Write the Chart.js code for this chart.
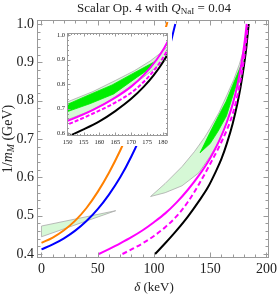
<!DOCTYPE html>
<html>
<head>
<meta charset="utf-8">
<script src="https://cdn.jsdelivr.net/npm/chart.js@4"></script>
<style>
  body { margin: 0; background: #fff; }
  #wrap { position: relative; width: 280px; height: 294px; font-family: "Liberation Serif", "DejaVu Serif", serif; color: #222; }
  #main { position: absolute; left: 0; top: 0; }
  #insetBox { position: absolute; left: 50px; top: 27px; width: 122px; height: 119px; background: #fff; }
  .lbl { position: absolute; white-space: nowrap; }
  #title { left: 37px; width: 234px; top: 0; text-align: center; font-size: 13px; line-height: 15px; }
  #xTitle { left: 37px; width: 234px; top: 279px; text-align: center; font-size: 13px; line-height: 15px; }
  #yTitle { left: 9px; top: 139px; font-size: 14px; line-height: 15px; transform: translate(-50%, -50%) rotate(-90deg); }
  sub { font-size: 70%; vertical-align: -0.25em; }
</style>
</head>
<body>
<div id="wrap">
  <canvas id="main" width="280" height="294"></canvas>
  <div id="insetBox"><canvas id="inset" width="122" height="119"></canvas></div>
  <div class="lbl" id="title">Scalar Op. 4 with <i>Q</i><sub>NaI</sub> = 0.04</div>
  <div class="lbl" id="xTitle"><i>δ</i> (keV)</div>
  <div class="lbl" id="yTitle">1/<i>m<sub>M</sub></i> (GeV)</div>
</div>
<script>
// curves: delta (keV) vs 1/m_M (GeV)
const orangeX = [0, 10, 20, 30, 40, 50, 60, 70, 80, 90, 100, 110, 112];
const orangeY = [0.429, 0.443, 0.462, 0.487, 0.520, 0.562, 0.612, 0.670, 0.736, 0.810, 0.893, 0.985, 1.005];

const blueX = [0, 10, 20, 30, 40, 50, 60, 70, 80, 90, 100, 110, 119];
const blueY = [0.412, 0.425, 0.441, 0.461, 0.486, 0.517, 0.555, 0.600, 0.655, 0.720, 0.800, 0.895, 1.0];

const magentaX = [51, 60, 70, 80, 90, 100, 110, 120, 130, 140, 150, 158, 165, 170, 174, 178, 180.5, 182.5];
const magentaY = [0.400, 0.413, 0.428, 0.444, 0.462, 0.483, 0.506, 0.534, 0.567, 0.605, 0.650, 0.695, 0.745, 0.790, 0.838, 0.900, 0.950, 1.0];

const magentaDashX = [72, 80, 90, 100, 110, 120, 130, 140, 150, 158, 165, 170, 174, 178, 181, 183.5];
const magentaDashY = [0.400, 0.412, 0.428, 0.447, 0.470, 0.498, 0.535, 0.582, 0.635, 0.680, 0.725, 0.765, 0.810, 0.870, 0.930, 0.995];

const blackX = [101, 110, 120, 130, 140, 148, 155, 160, 165, 170, 174, 177, 180, 182, 184.3];
const blackY = [0.400, 0.428, 0.461, 0.497, 0.538, 0.574, 0.615, 0.648, 0.690, 0.740, 0.790, 0.835, 0.890, 0.935, 1.0];

// allowed regions (closed outlines)
const lightX = [97, 110, 125, 136, 145, 150, 158, 165, 171, 176, 180, 183, 182.5, 180.5, 177, 173, 168, 163, 157, 150, 140, 125, 110, 97];
const lightY = [0.550, 0.584, 0.628, 0.667, 0.704, 0.728, 0.770, 0.815, 0.855, 0.895, 0.935, 0.975, 0.935, 0.900, 0.860, 0.820, 0.775, 0.730, 0.690, 0.655, 0.612, 0.578, 0.560, 0.550];

const wedgeX = [0, 66, 0, 0];
const wedgeY = [0.473, 0.513, 0.445, 0.473];

const darkX = [141, 150, 157, 164, 170, 174, 177.5, 176, 172, 164.5, 157, 150, 141];
const darkY = [0.664, 0.718, 0.758, 0.797, 0.840, 0.868, 0.893, 0.865, 0.830, 0.760, 0.720, 0.688, 0.664];

const mainXTicks = [0, 50, 100, 150, 200];
const mainYTicks = [0.4, 0.5, 0.6, 0.7, 0.8, 0.9, 1.0];
const insetXTicks = [150, 155, 160, 165, 170, 175, 180];
const insetYTicks = [0.6, 0.7, 0.8, 0.9, 1.0];

function pts(xs, ys) {
    return xs.map((x, i) => ({ x: x, y: ys[i] }));
}

function buildDatasets(w, dash) {
    const curve = (xs, ys, color, extra) => Object.assign({
        data: pts(xs, ys), showLine: true, pointRadius: 0, borderColor: color,
        borderWidth: w, cubicInterpolationMode: 'monotone', fill: false, order: 1
    }, extra || {});
    const region = (xs, ys, bg, edge, order) => ({
        data: pts(xs, ys), showLine: true, pointRadius: 0, borderColor: edge,
        backgroundColor: bg, borderWidth: 0.8, fill: 'shape', tension: 0, order: order
    });
    return [
        region(lightX, lightY, 'rgba(0,210,0,0.16)', '#a9a9a9', 3),
        region(wedgeX, wedgeY, 'rgba(0,210,0,0.16)', '#a9a9a9', 3),
        region(darkX, darkY, '#00ee00', '#00ee00', 2),
        curve(orangeX, orangeY, '#ff8000'),
        curve(blueX, blueY, '#0000ff'),
        curve(magentaX, magentaY, '#ff00ff'),
        curve(magentaDashX, magentaDashY, '#ff00ff', { borderDash: dash }),
        curve(blackX, blackY, '#000000')
    ];
}

// Mathematica-style frame with inward ticks on all four sides
const frameTicks = {
    id: 'frameTicks',
    afterDraw(chart, args, o) {
        const { ctx, chartArea: a, scales: { x, y } } = chart;
        const l = Math.round(a.left) + 0.5, r = Math.round(a.right) - 0.5;
        const t = Math.round(a.top) + 0.5, b = Math.round(a.bottom) - 0.5;
        ctx.save();
        ctx.strokeStyle = o.color;
        ctx.lineWidth = 1;
        ctx.strokeRect(l, t, r - l, b - t);
        ctx.beginPath();
        const xMaj = x.ticks.map(k => k.value);
        for (let i = Math.ceil(x.min / o.xStep); i * o.xStep <= x.max; i++) {
            const v = i * o.xStep;
            const p = Math.round(x.getPixelForValue(v)) + 0.5;
            const len = xMaj.some(m => Math.abs(m - v) < 1e-6) ? o.major : o.minor;
            ctx.moveTo(p, b); ctx.lineTo(p, b - len);
            ctx.moveTo(p, t); ctx.lineTo(p, t + len);
        }
        const yMaj = y.ticks.map(k => k.value);
        for (let i = Math.ceil(y.min / o.yStep - 1e-6); i * o.yStep <= y.max + 1e-9; i++) {
            const v = i * o.yStep;
            const p = Math.round(y.getPixelForValue(v)) + 0.5;
            const len = yMaj.some(m => Math.abs(m - v) < 1e-6) ? o.major : o.minor;
            ctx.moveTo(l, p); ctx.lineTo(l + len, p);
            ctx.moveTo(r, p); ctx.lineTo(r - len, p);
        }
        ctx.stroke();
        ctx.restore();
    }
};

function axis(min, max, ticks, fontSize, pad, fit, fmt) {
    return {
        type: 'linear', min: min, max: max,
        grid: { display: false, drawTicks: false },
        border: { display: false },
        afterBuildTicks: s => { s.ticks = ticks.map(v => ({ value: v })); },
        afterFit: fit,
        ticks: {
            autoSkip: false, maxRotation: 0, padding: pad, color: '#222',
            font: { family: 'Liberation Serif', size: fontSize },
            callback: fmt
        }
    };
}

new Chart(document.getElementById('main'), {
    type: 'scatter',
    data: { datasets: buildDatasets(2, [5, 3]) },
    options: {
        responsive: false, animation: false,
        layout: { padding: { top: 20, right: 9, left: 0, bottom: 0 } },
        plugins: {
            legend: { display: false }, tooltip: { enabled: false },
            frameTicks: { color: '#9a9a9a', xStep: 10, yStep: 0.02, major: 5, minor: 3 }
        },
        scales: {
            x: axis(-4, 202.6, mainXTicks, 14, 3, s => { s.height = 36; }, v => String(v)),
            y: axis(0.3896, 1.0104, mainYTicks, 14, 3, s => { s.width = 37; }, v => v.toFixed(1))
        }
    },
    plugins: [frameTicks]
});

new Chart(document.getElementById('inset'), {
    type: 'scatter',
    data: { datasets: buildDatasets(2, [4, 2]) },
    options: {
        responsive: false, animation: false,
        layout: { padding: { top: 4, right: 4, left: 0, bottom: 0 } },
        plugins: {
            legend: { display: false }, tooltip: { enabled: false },
            frameTicks: { color: '#9a9a9a', xStep: 1, yStep: 0.02, major: 3, minor: 1.5 }
        },
        scales: {
            x: axis(149.8, 181.6, insetXTicks, 6.5, 2, s => { s.height = 10; }, v => String(v)),
            y: axis(0.588, 1.01, insetYTicks, 6.5, 2, s => { s.width = 17; }, v => v.toFixed(1))
        }
    },
    plugins: [frameTicks]
});
</script>
</body>
</html>
